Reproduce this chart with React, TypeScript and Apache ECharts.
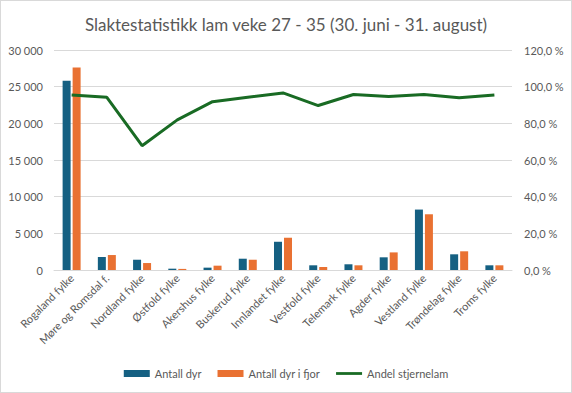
import React, { useEffect, useRef } from "react";
import * as echarts from "echarts";

const categories = [
  "Rogaland fylke",
  "Møre og Romsdal f.",
  "Nordland fylke",
  "Østfold fylke",
  "Akershus fylke",
  "Buskerud fylke",
  "Innlandet fylke",
  "Vestfold fylke",
  "Telemark fylke",
  "Agder fylke",
  "Vestland fylke",
  "Trøndelag fylke",
  "Troms fylke",
];
const antallDyr = [25800, 1770, 1400, 180, 320, 1540, 3850, 640, 780, 1730, 8240, 2140, 640];
const antallDyrIFjor = [27600, 2040, 950, 150, 590, 1400, 4400, 410, 640, 2400, 7600, 2550, 640];
const andelStjernelam = [95.4, 94.2, 67.8, 81.9, 91.8, 94.2, 96.6, 89.7, 95.7, 94.6, 95.7, 93.9, 95.5];

const FONT = "Lato, 'Open Sans', sans-serif";
const GREY = "#595959";

export default function App() {
  const ref = useRef<HTMLDivElement>(null);
  useEffect(() => {
    document.body.style.margin = "0";
    if (!ref.current) return;
    const chart = echarts.init(ref.current, undefined, { renderer: "svg" });
    chart.setOption({
      animation: false,
      backgroundColor: "#ffffff",
      textStyle: { fontFamily: FONT },
      title: {
        text: "Slaktestatistikk lam veke 27 - 35 (30. juni - 31. august)",
        left: "center",
        top: 15,
        padding: 0,
        textStyle: { fontFamily: FONT, fontSize: 17, fontWeight: "normal", color: GREY },
      },
      legend: {
        bottom: 13,
        left: "center",
        padding: 0,
        itemWidth: 26,
        itemHeight: 7,
        itemGap: 16,
        textStyle: { fontFamily: FONT, fontSize: 11, color: GREY },
        data: [
          { name: "Antall dyr", icon: "rect" },
          { name: "Antall dyr i fjor", icon: "rect" },
          { name: "Andel stjernelam", icon: "path://M0,0H28V3H0Z" },
        ],
      },
      grid: { left: 53, right: 59, top: 49, bottom: 122, containLabel: false },
      xAxis: {
        type: "category",
        data: categories,
        axisTick: { show: false },
        axisLine: { show: true, lineStyle: { color: "#d9d9d9", width: 1 } },
        axisLabel: {
          interval: 0,
          rotate: 45,
          fontSize: 11,
          color: GREY,
          fontFamily: FONT,
          margin: 6,
        },
      },
      yAxis: [
        {
          type: "value",
          min: 0,
          max: 30000,
          interval: 5000,
          axisLine: { show: false },
          axisTick: { show: false },
          splitLine: { lineStyle: { color: "#d9d9d9", width: 1 } },
          axisLabel: {
            fontSize: 11,
            color: GREY,
            fontFamily: FONT,
            margin: 11,
            formatter: (v: number) => String(v).replace(/\B(?=(\d{3})+(?!\d))/g, " "),
          },
        },
        {
          type: "value",
          min: 0,
          max: 120,
          interval: 20,
          axisLine: { show: false },
          axisTick: { show: false },
          splitLine: { show: false },
          axisLabel: {
            fontSize: 11,
            color: GREY,
            fontFamily: FONT,
            margin: 12,
            formatter: (v: number) => v.toFixed(1).replace(".", ",") + " %",
          },
        },
      ],
      series: [
        {
          name: "Antall dyr",
          type: "bar",
          data: antallDyr,
          barWidth: 8,
          barGap: "25%",
          itemStyle: { color: "#156082" },
        },
        {
          name: "Antall dyr i fjor",
          type: "bar",
          data: antallDyrIFjor,
          barWidth: 8,
          barGap: "25%",
          itemStyle: { color: "#E97132" },
        },
        {
          name: "Andel stjernelam",
          type: "line",
          yAxisIndex: 1,
          data: andelStjernelam,
          symbol: "none",
          showSymbol: false,
          lineStyle: { color: "#196B24", width: 3 },
          itemStyle: { color: "#196B24" },
        },
      ],
    });
    return () => chart.dispose();
  }, []);
  return (
    <div
      style={{
        width: 572,
        height: 393,
        boxSizing: "border-box",
        border: "1px solid #d9d9d9",
        background: "#fff",
      }}
    >
      <div ref={ref} style={{ width: 570, height: 391 }} />
    </div>
  );
}
